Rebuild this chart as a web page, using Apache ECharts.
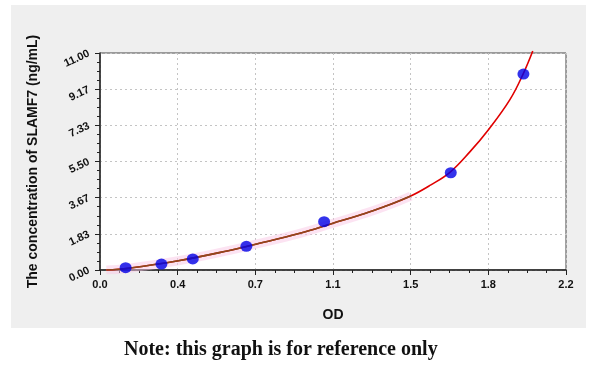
<!DOCTYPE html>
<html>
<head>
<meta charset="utf-8">
<script src="https://cdn.jsdelivr.net/npm/echarts@6/dist/echarts.min.js"></script>
<style>
    html, body { margin: 0; padding: 0; background: #fff; }
    #chart { width: 600px; height: 377px; }
</style>
</head>
<body>
<div id="chart"></div>
<script>
// standards
var pointOD = [0.121, 0.29, 0.438, 0.691, 1.058, 1.656, 1.999];
var pointConc = [0.12, 0.30, 0.56, 1.20, 2.45, 4.93, 9.93];

// fitted curve, traced by eye
var curveOD = [0.03, 0.134, 0.37, 0.606, 0.72, 0.944, 1.10, 1.228, 1.338, 1.467, 1.56, 1.652, 1.747, 1.833, 1.936, 1.999, 2.043];
var curveConc = [0, 0.09, 0.47, 0.98, 1.27, 1.86, 2.37, 2.79, 3.19, 3.75, 4.3, 4.95, 6.0, 7.1, 8.65, 9.97, 11.1];
var brownEnd = 10; // brown overlay covers the first points only

var xMax = 2.2, yMax = 11;
var xTitle = 'OD';
var yTitle = 'The concentration of SLAMF7 (ng/mL)';
var note = 'Note: this graph is for reference only';

function pairs(xs, ys, n) {
    var out = [];
    for (var i = 0; i < (n || xs.length); i++)
        out.push([xs[i], ys[i]]);
    return out;
}

var labelFont = {
    fontFamily: 'Liberation Sans, Arial, sans-serif',
    fontWeight: 'bold',
    fontSize: 11,
    color: '#111'
};
var titleFont = {
    fontFamily: 'Liberation Sans, Arial, sans-serif',
    fontWeight: 'bold',
    fontSize: 14,
    color: '#111'
};

var chart = echarts.init(document.getElementById('chart'));
chart.setOption({
    animation: false,
    backgroundColor: '#fff',
    graphic: [
        {
            type: 'rect',
            z: -100,
            shape: { x: 11, y: 5, width: 575, height: 323 },
            style: { fill: '#efefef' }
        },
        {
            type: 'text',
            left: 124,
            top: 340,
            style: {
                text: note,
                font: 'bold 20px "Liberation Serif", "DejaVu Serif", serif',
                fill: '#111'
            }
        }
    ],
    grid: {
        left: 100, right: 34, top: 53, bottom: 107,
        show: true,
        backgroundColor: '#fff',
        borderColor: '#444',
        borderWidth: 1
    },
    xAxis: {
        type: 'value',
        min: 0,
        max: xMax,
        interval: xMax / 6,
        name: xTitle,
        nameLocation: 'middle',
        nameGap: 38,
        nameTextStyle: titleFont,
        axisLine: { lineStyle: { color: '#222', width: 1.5 } },
        axisTick: { show: true, length: 5, lineStyle: { color: '#222' } },
        minorTick: { show: true, splitNumber: 4, length: 3, lineStyle: { color: '#222' } },
        axisLabel: Object.assign({
            margin: 9,
            formatter: function(v) { return v.toFixed(1); }
        }, labelFont),
        splitLine: { show: true, lineStyle: { color: '#c4c4c4', type: [2, 3] } }
    },
    yAxis: {
        type: 'value',
        min: 0,
        max: yMax,
        interval: yMax / 6,
        name: yTitle,
        nameLocation: 'middle',
        nameGap: 60,
        nameTextStyle: titleFont,
        axisLine: { lineStyle: { color: '#222', width: 1.5 } },
        axisTick: { show: true, length: 5, lineStyle: { color: '#222' } },
        minorTick: { show: true, splitNumber: 4, length: 3, lineStyle: { color: '#222' } },
        axisLabel: Object.assign({
            margin: 11,
            rotate: 25,
            formatter: function(v) { return v.toFixed(2); }
        }, labelFont),
        splitLine: { show: true, lineStyle: { color: '#c4c4c4', type: [2, 3] } }
    },
    series: [
        {
            name: 'band',
            type: 'line',
            smooth: true,
            symbol: 'none',
            data: pairs(curveOD, curveConc, brownEnd),
            lineStyle: { color: 'rgba(250, 200, 230, 0.5)', width: 9 },
            z: 1
        },
        {
            name: 'fit',
            type: 'line',
            smooth: 0.4,
            symbol: 'none',
            clip: false,
            data: pairs(curveOD, curveConc),
            lineStyle: { color: '#e00000', width: 1.6 },
            z: 2
        },
        {
            name: 'fit2',
            type: 'line',
            smooth: 0.4,
            symbol: 'none',
            data: pairs(curveOD, curveConc, brownEnd),
            lineStyle: { color: '#8a4a1e', width: 1.6 },
            z: 3
        },
        {
            name: 'standards',
            type: 'scatter',
            symbol: 'circle',
            symbolSize: [12, 11],
            data: pairs(pointOD, pointConc),
            itemStyle: { color: '#0000e6' },
            z: 4
        }
    ]
});
</script>
</body>
</html>
